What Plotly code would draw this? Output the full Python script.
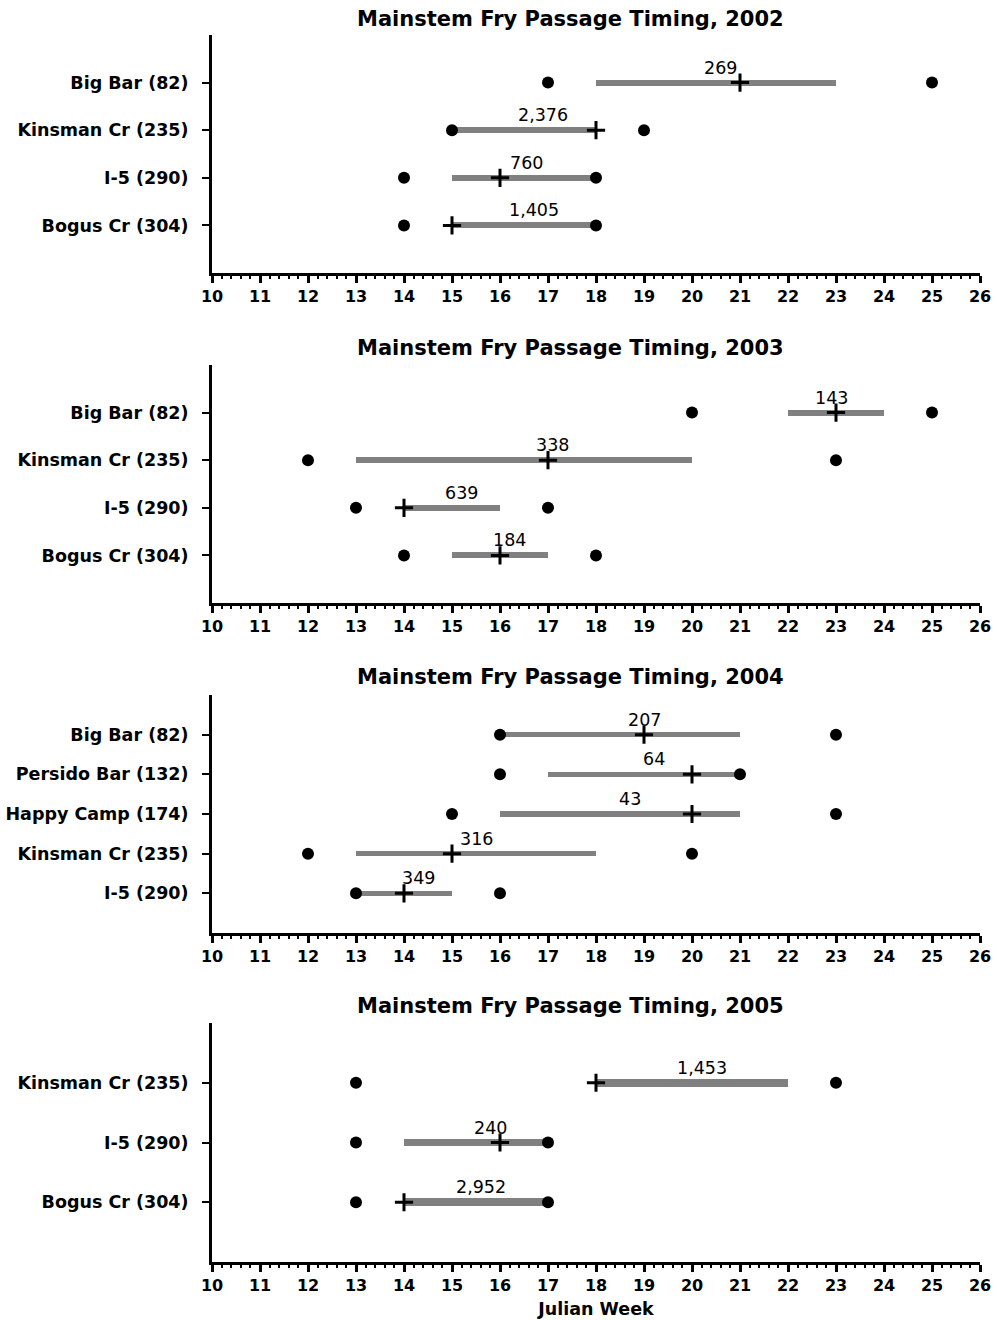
import plotly.graph_objects as go

years = [2002, 2003, 2004, 2005]

sites = [
    ["Bogus Cr (304)", "I-5 (290)", "Kinsman Cr (235)", "Big Bar (82)"],
    ["Bogus Cr (304)", "I-5 (290)", "Kinsman Cr (235)", "Big Bar (82)"],
    ["I-5 (290)", "Kinsman Cr (235)", "Happy Camp (174)", "Persido Bar (132)", "Big Bar (82)"],
    ["Bogus Cr (304)", "I-5 (290)", "Kinsman Cr (235)"],
]
first_week = [
    [14, 14, 15, 17],
    [14, 13, 12, 20],
    [13, 12, 15, 16, 16],
    [13, 13, 13],
]
last_week = [
    [18, 18, 19, 25],
    [18, 17, 23, 25],
    [16, 20, 23, 21, 23],
    [17, 17, 23],
]
bar_start = [
    [15, 15, 15, 18],
    [15, 14, 13, 22],
    [13, 13, 16, 17, 16],
    [14, 14, 18],
]
bar_end = [
    [18, 18, 18, 23],
    [17, 16, 20, 24],
    [15, 18, 21, 21, 21],
    [17, 17, 22],
]
median_week = [
    [15, 16, 18, 21],
    [16, 14, 17, 23],
    [14, 15, 20, 20, 19],
    [14, 16, 18],
]
counts = [
    ["1,405", "760", "2,376", "269"],
    ["184", "639", "338", "143"],
    ["349", "316", "43", "64", "207"],
    ["2,952", "240", "1,453"],
]
label_week = [
    [16.7, 16.55, 16.9, 20.6],
    [16.2, 15.2, 17.1, 22.9],
    [14.3, 15.5, 18.7, 19.2, 19.0],
    [15.6, 15.8, 20.2],
]
x_ticks = list(range(10, 27))

W, H = 997, 1320
x_left, x_right = 212, 980
panel_px = [(35, 273), (365, 603), (695, 933), (1023, 1262)]
title_px = [19, 348, 677, 1006]

TICKFONT = dict(family="DejaVu Sans", size=16, color="black", weight="bold")
YFONT = dict(family="DejaVu Sans", size=17.5, color="black", weight="bold")

fig = go.Figure()
annotations = []
layout = {}

for i, yr in enumerate(years):
    n = i + 1
    xa = "x" if n == 1 else f"x{n}"
    ya = "y" if n == 1 else f"y{n}"
    # gray bars
    fig.add_trace(go.Bar(
        orientation="h",
        y=sites[i],
        base=bar_start[i],
        x=[e - s for s, e in zip(bar_start[i], bar_end[i])],
        width=0.13,
        marker=dict(color="#808080", line=dict(width=0)),
        xaxis=xa, yaxis=ya, showlegend=False,
    ))
    # first / last dots
    fig.add_trace(go.Scatter(
        x=first_week[i] + last_week[i],
        y=sites[i] + sites[i],
        mode="markers",
        marker=dict(symbol="circle", size=12, color="black"),
        xaxis=xa, yaxis=ya, showlegend=False,
    ))
    # median cross
    fig.add_trace(go.Scatter(
        x=median_week[i],
        y=sites[i],
        mode="markers",
        marker=dict(symbol="cross-thin", size=13,
                    line=dict(color="black", width=3)),
        xaxis=xa, yaxis=ya, showlegend=False,
    ))
    for xv, yv, t in zip(label_week[i], sites[i], counts[i]):
        annotations.append(dict(
            x=xv, y=yv, xref=xa, yref=ya, text=t, showarrow=False,
            yshift=15, font=dict(family="DejaVu Sans", size=17.5, color="black"),
        ))
    top, bot = panel_px[i]
    layout[f"xaxis{'' if n == 1 else n}"] = dict(
        domain=[x_left / W, x_right / W],
        anchor=ya,
        automargin=False,
        range=[10, 26],
        tickmode="array", tickvals=x_ticks, ticktext=[str(v) for v in x_ticks],
        ticks="outside", ticklen=7, tickwidth=2.5, tickcolor="black",
        minor=dict(dtick=0.2, ticks="outside", ticklen=3, tickwidth=1.5,
                   tickcolor="black", showgrid=False),
        showline=True, linecolor="black", linewidth=3,
        showgrid=False, zeroline=False,
        tickfont=TICKFONT,
        title=(dict(text="Julian Week",
                    font=dict(family="DejaVu Sans", size=17.5, color="black", weight="bold"),
                    standoff=9) if n == 4 else None),
    )
    layout[f"yaxis{'' if n == 1 else n}"] = dict(
        domain=[1 - bot / H, 1 - top / H],
        anchor=xa,
        automargin=False,
        type="category",
        categoryorder="array", categoryarray=sites[i],
        range=[-1, len(sites[i])],
        ticks="outside", ticklen=7, tickwidth=2, tickcolor="black",
        showline=True, linecolor="black", linewidth=3,
        showgrid=False, zeroline=False,
        tickfont=YFONT,
        ticklabelstandoff=10,
    )
    annotations.append(dict(
        x=570 / W, y=1 - title_px[i] / H, xref="paper", yref="paper",
        text=f"Mainstem Fry Passage Timing, {yr}", showarrow=False,
        xanchor="center", yanchor="middle",
        font=dict(family="DejaVu Sans", size=21, color="black", weight="bold"),
    ))

fig.update_layout(
    width=W, height=H,
    margin=dict(l=0, r=0, t=0, b=0),
    paper_bgcolor="white", plot_bgcolor="white",
    annotations=annotations,
    bargap=0,
    **layout,
)

fig.write_html("out.html")
